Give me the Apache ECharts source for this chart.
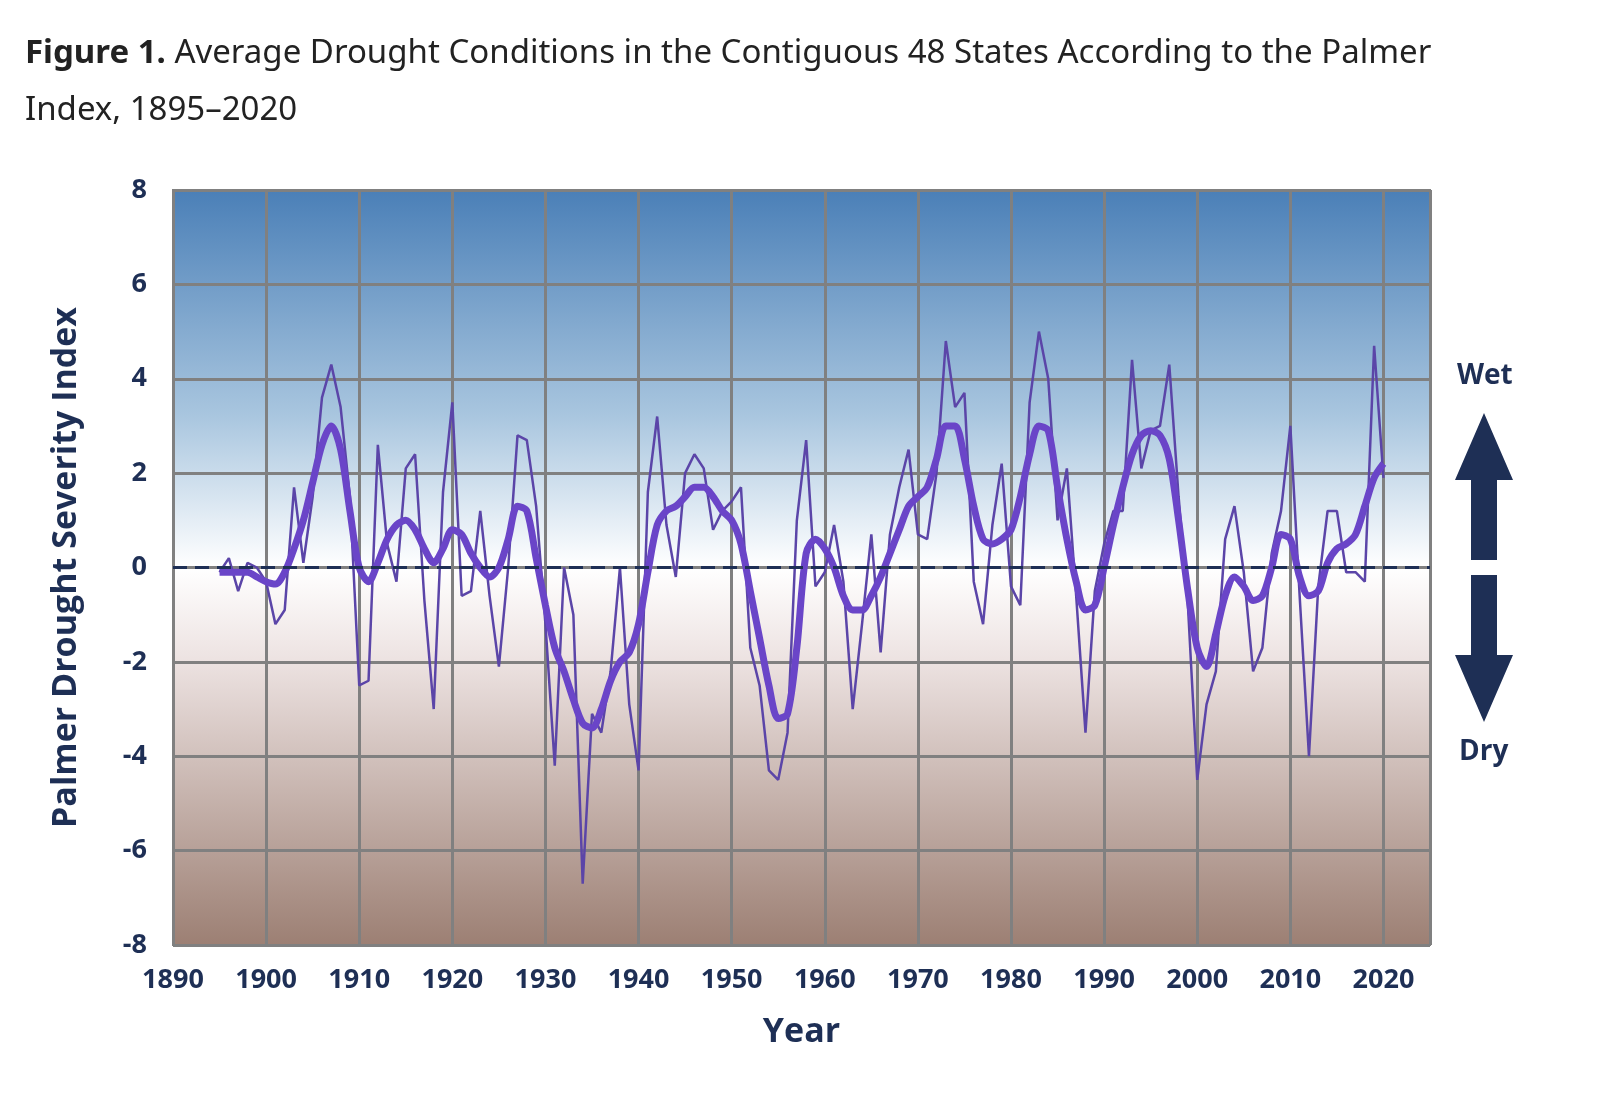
<!DOCTYPE html>
<html>
<head>
<meta charset="utf-8">
<script src="https://cdn.jsdelivr.net/npm/echarts@6/dist/echarts.min.js"></script>
<style>html,body{margin:0;background:#fff}#main{width:1600px;height:1113px}</style>
</head>
<body>
<div id="main"></div>
<script>
// annual Palmer index, 1895-2020
var startYear = 1895;
var annual = [
  -0.1, 0.2, -0.5, 0.1, 0.0, -0.3, -1.2, -0.9, 1.7, 0.1,
  1.5, 3.6, 4.3, 3.4, 1.5, -2.5, -2.4, 2.6, 0.5, -0.3,
  2.1, 2.4, -0.7, -3.0, 1.6, 3.5, -0.6, -0.5, 1.2, -0.6,
  -2.1, 0.0, 2.8, 2.7, 1.3, -1.2, -4.2, 0.0, -1.0, -6.7,
  -3.1, -3.5, -2.2, 0.0, -2.9, -4.3, 1.6, 3.2, 0.9, -0.2,
  2.0, 2.4, 2.1, 0.8, 1.2, 1.4, 1.7, -1.7, -2.5, -4.3,
  -4.5, -3.5, 1.0, 2.7, -0.4, -0.1, 0.9, -0.3, -3.0, -1.2,
  0.7, -1.8, 0.7, 1.7, 2.5, 0.7, 0.6, 2.0, 4.8, 3.4,
  3.7, -0.3, -1.2, 0.9, 2.2, -0.4, -0.8, 3.5, 5.0, 4.0,
  1.0, 2.1, -0.6, -3.5, -0.5, 0.5, 1.2, 1.2, 4.4, 2.1,
  2.9, 3.0, 4.3, 1.5, -0.8, -4.5, -2.9, -2.2, 0.6, 1.3,
  -0.1, -2.2, -1.7, 0.3, 1.2, 3.0, -0.6, -4.0, -0.4, 1.2,
  1.2, -0.1, -0.1, -0.3, 4.7, 1.9
];
// smoothed (multi-year average) line
var smooth = [
  -0.1, -0.1, -0.1, -0.1, -0.2, -0.3, -0.35, -0.1, 0.4, 1.0,
  1.8, 2.6, 3.0, 2.5, 1.2, 0.0, -0.3, 0.1, 0.6, 0.9,
  1.0, 0.8, 0.4, 0.1, 0.4, 0.8, 0.7, 0.3, 0.0, -0.2,
  0.0, 0.6, 1.3, 1.2, 0.2, -0.8, -1.7, -2.2, -2.8, -3.3,
  -3.4, -3.0, -2.4, -2.0, -1.8, -1.2, -0.1, 0.9, 1.2, 1.3,
  1.5, 1.7, 1.7, 1.5, 1.2, 1.0, 0.5, -0.5, -1.5, -2.5,
  -3.2, -3.1, -1.7, 0.3, 0.6, 0.4, 0.0, -0.6, -0.9, -0.9,
  -0.6, -0.2, 0.3, 0.8, 1.3, 1.5, 1.7, 2.3, 3.0, 3.0,
  2.3, 1.3, 0.6, 0.5, 0.6, 0.8, 1.5, 2.4, 3.0, 2.9,
  1.7, 0.6, -0.3, -0.9, -0.8, 0.0, 0.9, 1.7, 2.4, 2.8,
  2.9, 2.8, 2.3, 1.0, -0.5, -1.7, -2.1, -1.4, -0.6, -0.2,
  -0.4, -0.7, -0.6, 0.0, 0.7, 0.6, -0.2, -0.6, -0.5, 0.1,
  0.4, 0.5, 0.7, 1.3, 1.9, 2.2
];
var yTicks = [-8, -6, -4, -2, 0, 2, 4, 6, 8];

function pairs(arr) {
  return arr.map(function (v, i) { return [startYear + i, v]; });
}

var navy = '#1e2f55';
var chart = echarts.init(document.getElementById('main'));
chart.setOption({
  animation: false,
  title: {
    left: 20, top: 20,
    text: '{b|Figure 1.} Average Drought Conditions in the Contiguous 48 States According to the Palmer\nIndex, 1895–2020',
    textStyle: {
      fontFamily: 'Noto Sans', fontSize: 33, fontWeight: 'normal', color: '#222', lineHeight: 57,
      rich: { b: { fontFamily: 'Noto Sans', fontSize: 33, fontWeight: 'bold', color: '#222' } }
    }
  },
  grid: {
    left: 173, right: 170, top: 190, bottom: 168,
    show: true, borderColor: '#808080', borderWidth: 2,
    backgroundColor: new echarts.graphic.LinearGradient(0, 0, 0, 1, [
      { offset: 0, color: '#4a7fb7' },
      { offset: 0.3, color: '#a9c6df' },
      { offset: 0.5, color: '#ffffff' },
      { offset: 0.62, color: '#ede3e2' },
      { offset: 1, color: '#9c7f73' }
    ])
  },
  xAxis: {
    type: 'value', min: 1890, max: 2025, interval: 10,
    name: 'Year', nameLocation: 'middle', nameGap: 70,
    nameTextStyle: { fontFamily: 'Open Sans', fontWeight: 'bold', fontSize: 34, color: navy },
    axisLine: { show: false }, axisTick: { show: false },
    axisLabel: {
      fontFamily: 'Open Sans', fontWeight: 'bold', fontSize: 27, color: navy, margin: 22,
      formatter: function (v) { return v % 10 === 0 && v <= 2020 ? String(v) : ''; }
    },
    splitLine: { lineStyle: { color: '#808080', width: 3 } }
  },
  yAxis: {
    type: 'value', min: yTicks[0], max: yTicks[yTicks.length - 1], interval: 2,
    name: 'Palmer Drought Severity Index', nameLocation: 'middle', nameGap: 90,
    nameTextStyle: { fontFamily: 'Open Sans', fontWeight: 'bold', fontSize: 34, color: navy },
    axisLine: { show: false }, axisTick: { show: false },
    axisLabel: { fontFamily: 'Open Sans', fontWeight: 'bold', fontSize: 27, color: navy, margin: 26 },
    splitLine: { lineStyle: { color: '#808080', width: 3 } }
  },
  series: [
    {
      type: 'line', data: pairs(annual), symbol: 'none',
      lineStyle: { color: '#5b45a8', width: 2.5 },
      markLine: {
        silent: true, symbol: 'none', label: { show: false },
        lineStyle: { color: navy, type: [14, 8], width: 3 },
        data: [{ yAxis: 0 }]
      },
      z: 3
    },
    {
      type: 'line', data: pairs(smooth), symbol: 'none', smooth: 0.3,
      lineStyle: { color: '#6a45c8', width: 7 }, z: 4
    }
  ],
  graphic: [
    { type: 'text', left: 1457, top: 362, style: { text: 'Wet', font: 'bold 28px "Open Sans"', fill: navy } },
    { type: 'text', left: 1459, top: 738, style: { text: 'Dry', font: 'bold 28px "Open Sans"', fill: navy } },
    { type: 'polygon', shape: { points: [[1484, 413], [1513, 480], [1497, 480], [1497, 560], [1471, 560], [1471, 480], [1455, 480]] }, style: { fill: navy } },
    { type: 'polygon', shape: { points: [[1484, 722], [1513, 655], [1497, 655], [1497, 575], [1471, 575], [1471, 655], [1455, 655]] }, style: { fill: navy } }
  ]
});
</script>
</body>
</html>
